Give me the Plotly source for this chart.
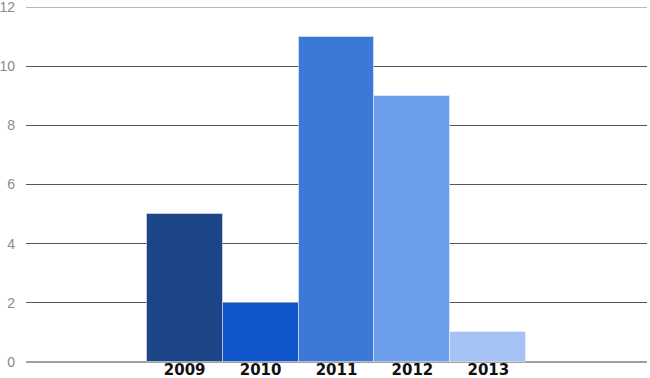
import plotly.graph_objects as go

years = ["2009", "2010", "2011", "2012", "2013"]
counts = [5, 2, 11, 9, 1]
colors = ["#1c4587", "#1155cc", "#3c78d8", "#6d9eeb", "#a4c2f4"]
y_ticks = [0, 2, 4, 6, 8, 10, 12]

fig = go.Figure()
fig.add_trace(go.Bar(
    x=years, y=counts,
    marker=dict(color=colors, line=dict(color="rgba(255,255,255,0.45)", width=1)),
    hoverinfo="x+y",
))

fig.update_layout(
    width=650, height=378,
    margin=dict(l=26, r=3, t=7, b=16),
    paper_bgcolor="white", plot_bgcolor="white",
    bargap=0, showlegend=False,
    xaxis=dict(
        type="category", range=[-2.09, 6.09], automargin=False,
        showgrid=False, showline=False, ticks="",
        tickfont=dict(family="DejaVu Sans", size=15, color="#111111"),
        ticklabelstandoff=-3, ticklabeloverflow="allow",
        tickprefix="<b>", ticksuffix="</b>",
    ),
    yaxis=dict(
        range=[0, 12], tickvals=y_ticks, automargin=False,
        showgrid=True, gridcolor="#555555", gridwidth=1,
        zeroline=True, zerolinecolor="#a0a0a0", zerolinewidth=1.5,
        showline=False, ticks="",
        tickfont=dict(family="Liberation Sans", size=14, color="#8a8a8a"),
        ticklabelstandoff=10, ticklabeloverflow="allow",
    ),
    shapes=[dict(type="line", xref="paper", yref="y", x0=0, x1=1, y0=12, y1=12,
                 line=dict(color="#a0a0a0", width=1.5))],
)

fig.write_html("out.html")
